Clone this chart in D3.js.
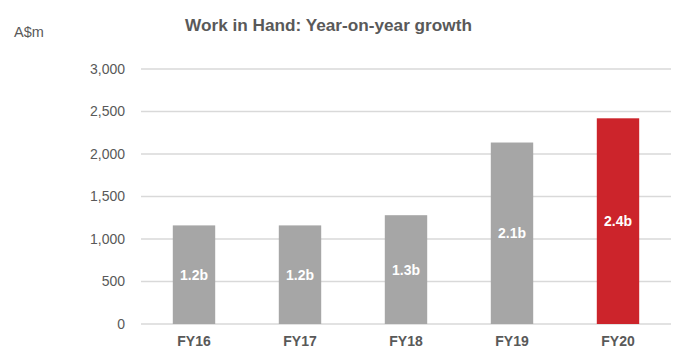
<!DOCTYPE html>
<html>
<head>
<meta charset="utf-8">
<script src="https://cdn.jsdelivr.net/npm/d3@7"></script>
<style>
  body { margin: 0; background: #fff; }
  text { font-family: "Liberation Sans", Arial, sans-serif; }
</style>
</head>
<body>
<div id="chart"></div>
<script>
// chart size
var width = 676;
var height = 354;

// data
var years = ["FY16", "FY17", "FY18", "FY19", "FY20"];
var workInHand = [1160, 1160, 1280, 2135, 2420];
var barLabels = ["1.2b", "1.2b", "1.3b", "2.1b", "2.4b"];
var yTicks = [0, 500, 1000, 1500, 2000, 2500, 3000];

var margin = {top: 69, right: 5, bottom: 30, left: 141};

var svg = d3.select("#chart")
    .append("svg")
    .attr("width", width)
    .attr("height", height);

var x = d3.scaleBand()
    .domain(years)
    .range([margin.left, width - margin.right])
    .paddingInner(0.6)
    .paddingOuter(0.3);

var y = d3.scaleLinear()
    .domain([0, 3000])
    .range([324, margin.top]);

// gridlines
svg.selectAll("line.grid")
   .data(yTicks)
   .enter()
   .append("line")
   .attr("class", "grid")
   .attr("x1", margin.left)
   .attr("x2", width - margin.right)
   .attr("y1", function(d) { return y(d); })
   .attr("y2", function(d) { return y(d); })
   .attr("stroke", "#d9d9d9")
   .attr("stroke-width", 1.5);

// y axis labels
var yAxis = svg.append("g")
   .attr("transform", "translate(" + (margin.left - 13) + ",0)")
   .call(d3.axisLeft(y).tickValues(yTicks).tickFormat(d3.format(",")).tickSize(0));
yAxis.select(".domain").remove();
yAxis.selectAll("text")
   .attr("font-size", 14)
   .attr("font-family", "Liberation Sans, Arial, sans-serif")
   .attr("fill", "#595959");

// bars
svg.selectAll("rect.bar")
   .data(years)
   .enter()
   .append("rect")
   .attr("class", "bar")
   .attr("x", function(d) { return x(d); })
   .attr("width", x.bandwidth())
   .attr("y", function(d, i) { return y(workInHand[i]); })
   .attr("height", function(d, i) { return y(0) - y(workInHand[i]); })
   .attr("fill", function(d, i) { return i === years.length - 1 ? "#cc242b" : "#a6a6a6"; });

// labels inside bars
svg.selectAll("text.value")
   .data(years)
   .enter()
   .append("text")
   .attr("class", "value")
   .text(function(d, i) { return barLabels[i]; })
   .attr("x", function(d) { return x(d) + x.bandwidth() / 2; })
   .attr("y", function(d, i) { return (y(workInHand[i]) + y(0)) / 2; })
   .attr("dy", "0.35em")
   .attr("text-anchor", "middle")
   .attr("font-size", 14)
   .attr("font-weight", "bold")
   .attr("fill", "#ffffff");

// x axis labels
var xAxis = svg.append("g")
   .attr("transform", "translate(0," + (y(0) + 9) + ")")
   .call(d3.axisBottom(x).tickSize(0));
xAxis.select(".domain").remove();
xAxis.selectAll("text")
   .attr("font-size", 14)
   .attr("font-weight", "bold")
   .attr("font-family", "Liberation Sans, Arial, sans-serif")
   .attr("fill", "#595959");

// title
svg.append("text")
   .text("Work in Hand: Year-on-year growth")
   .attr("text-anchor", "middle")
   .attr("x", 328.5)
   .attr("y", 31)
   .attr("font-size", 17.2)
   .attr("font-weight", "bold")
   .attr("fill", "#595959");

// unit label
svg.append("text")
   .text("A$m")
   .attr("x", 14)
   .attr("y", 37)
   .attr("font-size", 14.5)
   .attr("fill", "#595959");
</script>
</body>
</html>
